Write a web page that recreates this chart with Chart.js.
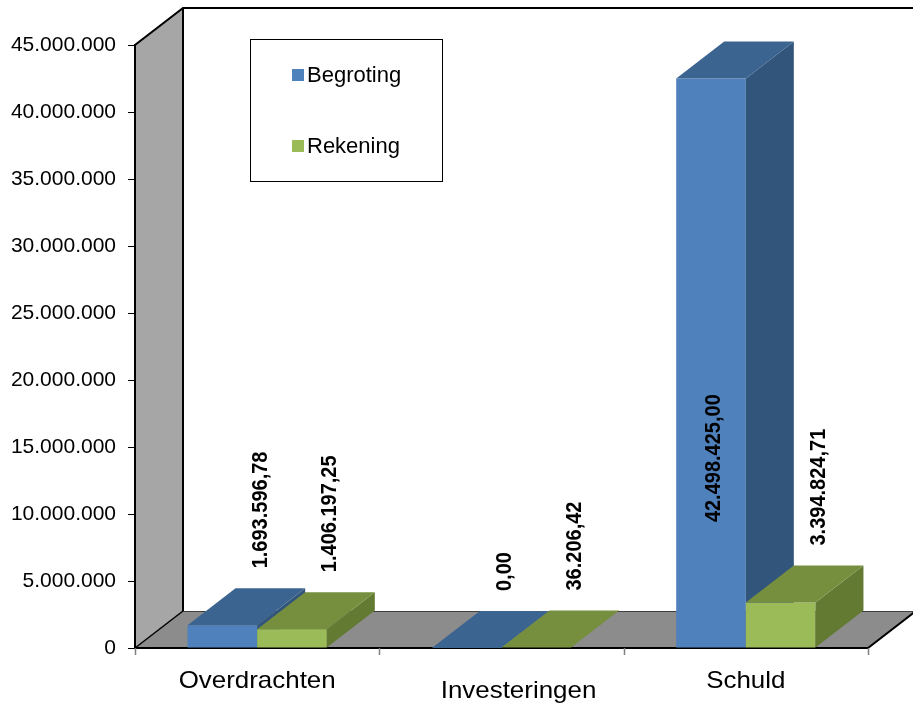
<!DOCTYPE html>
<html lang="nl">
<head>
<meta charset="UTF-8">
<title>Begroting en rekening</title>
<script src="https://cdn.jsdelivr.net/npm/chart.js"></script>
<style>
  html, body { margin: 0; padding: 0; background: #fff; }
  canvas { display: block; }
</style>
</head>
<body>
<canvas id="myChart" width="913" height="707"></canvas>
<script>
    // chart data
    const categories = ['Overdrachten', 'Investeringen', 'Schuld'];
    const seriesNames = ['Begroting', 'Rekening'];
    const begroting = [1693596.78, 0.00, 42498425.00];
    const rekening = [1406197.25, 36206.42, 3394824.71];
    const yMax = 45000000;
    const yStep = 5000000;

    const FONT = '"Liberation Sans", Arial, sans-serif';
    const DX = 48, DY = -37; // 3d depth offset
    const STRETCH = 1.08;    // the original text is a bit wide

    // front, top, side colours per series
    const faces = [
        ['#4f81bd', '#3c6490', '#32557b'],
        ['#9bbb59', '#768f3f', '#637a33']
    ];

    // 45000000 -> "45.000.000"
    function fmtInt(v) {
        return String(Math.round(v)).replace(/\B(?=(\d{3})+(?!\d))/g, '.');
    }
    // 1693596.78 -> "1.693.596,78"
    function fmtVal(v) {
        const parts = v.toFixed(2).split('.');
        return parts[0].replace(/\B(?=(\d{3})+(?!\d))/g, '.') + ',' + parts[1];
    }

    const box3d = {
        id: 'box3d',
        beforeDatasetsDraw(chart) {
            const ctx = chart.ctx;
            const a = chart.chartArea;
            const y = chart.scales.y;
            const top = y.getPixelForValue(yMax);
            const bot = y.getPixelForValue(0);
            ctx.save();
            // left wall
            ctx.fillStyle = '#a6a6a6';
            ctx.beginPath();
            ctx.moveTo(a.left, top);
            ctx.lineTo(a.left + DX, top + DY);
            ctx.lineTo(a.left + DX, bot + DY);
            ctx.lineTo(a.left, bot);
            ctx.closePath();
            ctx.fill();
            // floor
            ctx.fillStyle = '#8c8c8c';
            ctx.beginPath();
            ctx.moveTo(a.left, bot);
            ctx.lineTo(a.right, bot);
            ctx.lineTo(a.right + DX, bot + DY);
            ctx.lineTo(a.left + DX, bot + DY);
            ctx.closePath();
            ctx.fill();
            // floor back edge
            ctx.strokeStyle = '#404040';
            ctx.lineWidth = 1;
            ctx.beginPath();
            ctx.moveTo(a.left + DX, bot + DY + 0.5);
            ctx.lineTo(a.right + DX, bot + DY + 0.5);
            ctx.stroke();
            // outlines
            ctx.strokeStyle = '#000';
            ctx.lineWidth = 2;
            ctx.beginPath();
            ctx.moveTo(a.left, bot);
            ctx.lineTo(a.left, top);
            ctx.lineTo(a.left + DX, top + DY);
            ctx.lineTo(a.right + DX, top + DY);
            ctx.moveTo(a.left + DX, top + DY);
            ctx.lineTo(a.left + DX, bot + DY);
            ctx.moveTo(a.left, bot);
            ctx.lineTo(a.right, bot);
            ctx.lineTo(a.right + DX, bot + DY);
            ctx.stroke();
            ctx.lineWidth = 1.5;
            ctx.beginPath();
            ctx.moveTo(a.left, bot);
            ctx.lineTo(a.left + DX, bot + DY);
            ctx.stroke();

            // bars, category by category so nearer faces cover the right ones
            const metas = chart.data.datasets.map((d, i) => chart.getDatasetMeta(i));
            for (let j = 0; j < categories.length; j++) {
                metas.forEach((meta, i) => {
                    const el = meta.data[j];
                    const p = el.getProps(['x', 'y', 'base', 'width'], true);
                    const x1 = p.x - p.width / 2, x2 = p.x + p.width / 2;
                    const yt = Math.min(p.y, p.base), yb = p.base;
                    const c = faces[i];
                    // front
                    ctx.fillStyle = c[0];
                    ctx.fillRect(x1, yt, x2 - x1, yb - yt);
                    // side
                    ctx.fillStyle = c[2];
                    ctx.beginPath();
                    ctx.moveTo(x2, yt);
                    ctx.lineTo(x2 + DX, yt + DY);
                    ctx.lineTo(x2 + DX, yb + DY);
                    ctx.lineTo(x2, yb);
                    ctx.closePath();
                    ctx.fill();
                    // top
                    ctx.fillStyle = c[1];
                    ctx.beginPath();
                    ctx.moveTo(x1, yt);
                    ctx.lineTo(x2, yt);
                    ctx.lineTo(x2 + DX, yt + DY);
                    ctx.lineTo(x1 + DX, yt + DY);
                    ctx.closePath();
                    ctx.fill();
                });
            }
            ctx.restore();
            return false;
        },
        afterDraw(chart) {
            const ctx = chart.ctx;
            const a = chart.chartArea;
            const x = chart.scales.x;
            const y = chart.scales.y;
            const bot = y.getPixelForValue(0);
            ctx.save();

            // value labels, rotated
            ctx.font = 'bold 20px ' + FONT;
            ctx.fillStyle = '#000';
            ctx.textBaseline = 'middle';
            chart.data.datasets.forEach((ds, i) => {
                const meta = chart.getDatasetMeta(i);
                ds.data.forEach((v, j) => {
                    const p = meta.data[j].getProps(['x', 'y', 'base', 'width'], true);
                    const txt = fmtVal(v);
                    const w = ctx.measureText(txt).width;
                    let lx = p.x + DX * 0.8;
                    let cy = p.y + DY - 20 - w / 2;
                    if (cy - w / 2 < a.top) {
                        // no room above: put it on the front face
                        lx = p.x + 3;
                        cy = y.getPixelForValue(v / 3);
                    }
                    ctx.save();
                    ctx.translate(lx, cy);
                    ctx.scale(STRETCH, 1);
                    ctx.rotate(-Math.PI / 2);
                    ctx.textAlign = 'center';
                    ctx.fillText(txt, 0, 0);
                    ctx.restore();
                });
            });

            // category axis ticks and labels
            ctx.strokeStyle = '#808080';
            ctx.lineWidth = 1.5;
            const step = (a.right - a.left) / categories.length;
            ctx.beginPath();
            for (let k = 0; k <= categories.length; k++) {
                const tx = Math.round(a.left + k * step) + 0.5;
                ctx.moveTo(tx, bot);
                ctx.lineTo(tx, bot + 7);
            }
            ctx.stroke();
            ctx.font = '24px ' + FONT;
            ctx.fillStyle = '#000';
            ctx.textAlign = 'center';
            ctx.textBaseline = 'alphabetic';
            categories.forEach((c, k) => {
                const cx = x.getPixelForValue(k);
                const stagger = k % 2 === 1;
                ctx.save();
                ctx.translate(cx + (stagger ? 17 : 0), bot + (stagger ? 50 : 40));
                ctx.scale(STRETCH, 1);
                ctx.fillText(c, 0, 0);
                ctx.restore();
            });

            // legend
            ctx.fillStyle = '#fff';
            ctx.fillRect(251, 40, 191, 141);
            ctx.strokeStyle = '#000';
            ctx.lineWidth = 1;
            ctx.strokeRect(250.5, 39.5, 192, 142);
            ctx.font = '22px ' + FONT;
            ctx.textAlign = 'left';
            ctx.textBaseline = 'middle';
            seriesNames.forEach((n, i) => {
                const ly = 75 + i * 71;
                ctx.fillStyle = faces[i][0];
                ctx.fillRect(292, ly - 6, 12, 12);
                ctx.fillStyle = '#000';
                ctx.fillText(n, 307, ly + 1);
            });
            ctx.restore();
        }
    };

    const data = {
        labels: categories,
        datasets: [{
            label: seriesNames[0],
            data: begroting,
            backgroundColor: faces[0][0]
        }, {
            label: seriesNames[1],
            data: rekening,
            backgroundColor: faces[1][0]
        }]
    };

    const config = {
        type: 'bar',
        data: data,
        options: {
            responsive: false,
            animation: false,
            events: [],
            categoryPercentage: 0.57,
            barPercentage: 1,
            layout: {
                padding: { top: 45, right: 45, bottom: 59, left: 0 }
            },
            plugins: {
                legend: { display: false },
                tooltip: { enabled: false }
            },
            scales: {
                x: {
                    display: false
                },
                y: {
                    min: 0,
                    max: yMax,
                    afterFit(scale) {
                        scale.width = 135;
                    },
                    ticks: {
                        stepSize: yStep,
                        padding: 12,
                        color: '#000',
                        font: { family: FONT, size: 21 },
                        callback: (v) => fmtInt(v)
                    },
                    grid: {
                        drawOnChartArea: false,
                        drawTicks: true,
                        tickLength: 7,
                        color: '#000'
                    },
                    border: {
                        display: true,
                        color: '#000',
                        width: 2
                    }
                }
            }
        },
        plugins: [box3d]
    };

    const myChart = new Chart(document.getElementById('myChart'), config);
</script>
</body>
</html>
